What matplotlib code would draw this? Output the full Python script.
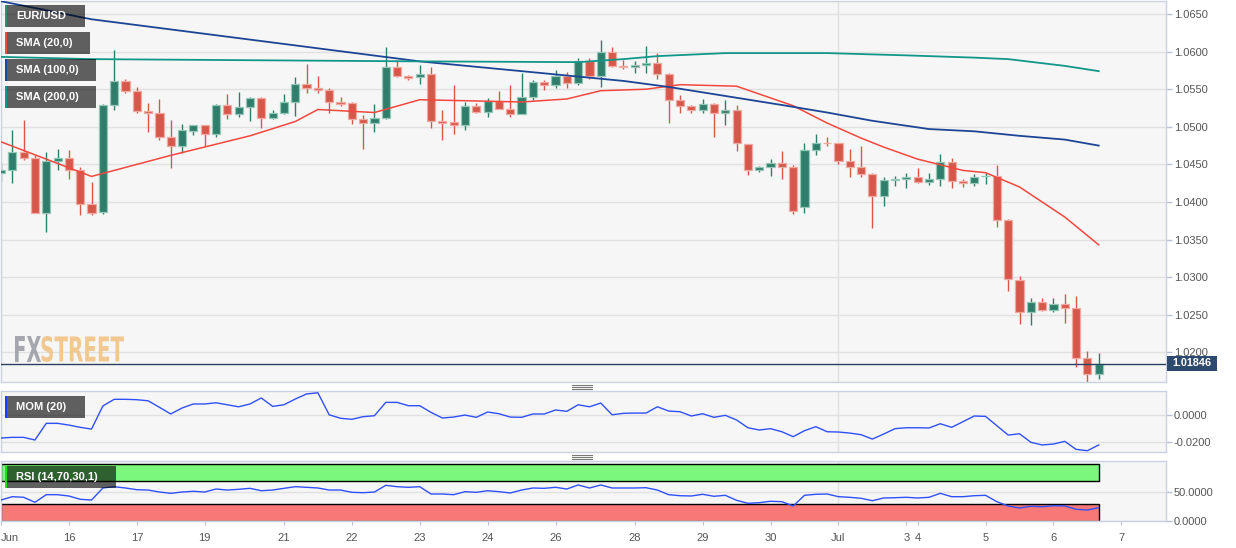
import matplotlib
matplotlib.use("Agg")
import matplotlib.pyplot as plt
import numpy as np
from matplotlib.patches import Rectangle, PathPatch
from matplotlib.textpath import TextPath
from matplotlib.font_manager import FontProperties
from matplotlib.transforms import Affine2D, IdentityTransform
from matplotlib.lines import Line2D

plt.rcParams['font.family'] = ['Liberation Sans', 'DejaVu Sans']

# EUR/USD 4h candles, 15 Jun - 6 Jul
opens = [1.0438, 1.0443, 1.0467, 1.0459, 1.0386, 1.0455, 1.0458, 1.0443, 1.0397, 1.0387,
         1.0529, 1.0561, 1.0547, 1.0521, 1.0518, 1.0486, 1.0474, 1.0494, 1.0502, 1.0490,
         1.0529, 1.0517, 1.0526, 1.0538, 1.0512, 1.0518, 1.0533, 1.0557, 1.0551, 1.0549,
         1.0533, 1.0531, 1.0511, 1.0505, 1.0512, 1.0580, 1.0568, 1.0566, 1.0570, 1.0508,
         1.0506, 1.0503, 1.0528, 1.0520, 1.0534, 1.0524, 1.0517, 1.0539, 1.0559, 1.0555,
         1.0567, 1.0558, 1.0588, 1.0568, 1.0600, 1.0581, 1.0580, 1.0582, 1.0585, 1.0570,
         1.0536, 1.0527, 1.0523, 1.0530, 1.0518, 1.0523, 1.0477, 1.0442, 1.0447, 1.0452,
         1.0447, 1.0394, 1.0469, 1.0479, 1.0479, 1.0455, 1.0447, 1.0437, 1.0408, 1.0429,
         1.0430, 1.0433, 1.0427, 1.0431, 1.0453, 1.0428, 1.0425, 1.0434, 1.0435, 1.0376,
         1.0296, 1.0254, 1.0267, 1.0257, 1.0264, 1.0259, 1.0192, 1.0171]
highs = [1.0452, 1.0496, 1.0509, 1.0462, 1.0466, 1.0470, 1.0469, 1.0446, 1.0427, 1.0530,
         1.0602, 1.0563, 1.0553, 1.0531, 1.0537, 1.0509, 1.0504, 1.0502, 1.0502, 1.0530,
         1.0543, 1.0546, 1.0540, 1.0539, 1.0523, 1.0543, 1.0566, 1.0583, 1.0567, 1.0551,
         1.0539, 1.0533, 1.0516, 1.0530, 1.0606, 1.0587, 1.0569, 1.0582, 1.0580, 1.0522,
         1.0555, 1.0533, 1.0532, 1.0538, 1.0548, 1.0555, 1.0571, 1.0562, 1.0562, 1.0576,
         1.0573, 1.0591, 1.0591, 1.0615, 1.0606, 1.0589, 1.0588, 1.0607, 1.0598, 1.0572,
         1.0542, 1.0529, 1.0537, 1.0532, 1.0536, 1.0529, 1.0477, 1.0448, 1.0457, 1.0468,
         1.0449, 1.0479, 1.0490, 1.0486, 1.0479, 1.0471, 1.0474, 1.0439, 1.0433, 1.0435,
         1.0439, 1.0445, 1.0439, 1.0464, 1.0458, 1.0431, 1.0437, 1.0439, 1.0449, 1.0377,
         1.0301, 1.0272, 1.0272, 1.0272, 1.0278, 1.0275, 1.0202, 1.0199]
lows = [1.0427, 1.0425, 1.0456, 1.0385, 1.0360, 1.0442, 1.0431, 1.0383, 1.0383, 1.0384,
        1.0522, 1.0545, 1.0518, 1.0493, 1.0482, 1.0445, 1.0465, 1.0489, 1.0475, 1.0486,
        1.0511, 1.0513, 1.0508, 1.0499, 1.0510, 1.0517, 1.0514, 1.0545, 1.0545, 1.0519,
        1.0528, 1.0504, 1.0470, 1.0493, 1.0511, 1.0566, 1.0562, 1.0557, 1.0499, 1.0483,
        1.0491, 1.0496, 1.0518, 1.0513, 1.0524, 1.0513, 1.0517, 1.0536, 1.0549, 1.0551,
        1.0551, 1.0556, 1.0564, 1.0553, 1.0580, 1.0577, 1.0571, 1.0571, 1.0564, 1.0505,
        1.0518, 1.0518, 1.0518, 1.0486, 1.0503, 1.0468, 1.0436, 1.0440, 1.0435, 1.0430,
        1.0384, 1.0385, 1.0462, 1.0474, 1.0450, 1.0433, 1.0433, 1.0366, 1.0395, 1.0421,
        1.0418, 1.0425, 1.0423, 1.0421, 1.0418, 1.0420, 1.0421, 1.0424, 1.0367, 1.0281,
        1.0238, 1.0236, 1.0255, 1.0254, 1.0239, 1.0180, 1.0161, 1.0165]
closes = [1.0443, 1.0467, 1.0459, 1.0386, 1.0454, 1.0458, 1.0443, 1.0397, 1.0386, 1.0529,
          1.0561, 1.0547, 1.0521, 1.0518, 1.0486, 1.0474, 1.0496, 1.0502, 1.0490, 1.0529,
          1.0517, 1.0526, 1.0538, 1.0512, 1.0518, 1.0533, 1.0557, 1.0551, 1.0549, 1.0533,
          1.0530, 1.0511, 1.0505, 1.0512, 1.0580, 1.0568, 1.0565, 1.0570, 1.0508, 1.0505,
          1.0503, 1.0528, 1.0520, 1.0534, 1.0524, 1.0517, 1.0539, 1.0559, 1.0555, 1.0567,
          1.0558, 1.0588, 1.0568, 1.0600, 1.0581, 1.0580, 1.0582, 1.0585, 1.0570, 1.0536,
          1.0527, 1.0523, 1.0530, 1.0518, 1.0523, 1.0478, 1.0442, 1.0446, 1.0452, 1.0447,
          1.0388, 1.0469, 1.0479, 1.0478, 1.0455, 1.0447, 1.0437, 1.0408, 1.0429, 1.0430,
          1.0433, 1.0427, 1.0431, 1.0453, 1.0428, 1.0425, 1.0433, 1.0435, 1.0376, 1.0297,
          1.0254, 1.0267, 1.0257, 1.0264, 1.0259, 1.0192, 1.0171, 1.01846]

# moving averages, read at a subset of candles
sma20_idx = [0, 8, 15, 22, 26, 28, 33, 37, 46, 50, 53, 57, 60, 65, 70, 73, 76, 78, 81, 85, 87, 90, 94, 97]
sma20_val = [1.0480, 1.0434, 1.0462, 1.0488, 1.0507, 1.0523, 1.0519, 1.0536, 1.0533, 1.0537, 1.0548,
             1.0550, 1.0556, 1.0554, 1.0528, 1.0505, 1.0485, 1.0473, 1.0457, 1.0442, 1.0439,
             1.0420, 1.0380, 1.0343]
sma100_idx = [0, 8, 37, 55, 59, 69, 73, 77, 82, 86, 90, 94, 97]
sma100_val = [1.0667, 1.0643, 1.0587, 1.0561, 1.0553, 1.0529, 1.0519, 1.0508, 1.0497, 1.0494,
              1.0488, 1.0483, 1.0475]
sma200_idx = [0, 8, 37, 51, 55, 58, 64, 73, 80, 86, 89, 94, 97]
sma200_val = [1.0593, 1.0590, 1.0587, 1.0586, 1.0590, 1.0594, 1.0598, 1.0598, 1.0595, 1.0592,
              1.0590, 1.0581, 1.0574]

mom = [-0.0170, -0.0165, -0.0165, -0.0185, -0.0060, -0.0060, -0.0073, -0.0090, -0.0103, 0.0070,
       0.0120, 0.0120, 0.0117, 0.0109, 0.0060, 0.0010, 0.0055, 0.0085, 0.0085, 0.0094,
       0.0079, 0.0064, 0.0085, 0.0130, 0.0067, 0.0079, 0.0122, 0.0160, 0.0169, 0.0004,
       -0.0022, -0.0030, -0.0010, -0.0003, 0.0097, 0.0097, 0.0072, 0.0072, 0.0022, -0.0020,
       -0.0013, 0.0002, -0.0015, 0.0025, 0.0012, -0.0013, -0.0015, 0.0010, 0.0010, 0.0040,
       0.0030, 0.0079, 0.0064, 0.0092, 0.0004, 0.0015, 0.0017, 0.0017, 0.0064, 0.0032,
       0.0027, -0.0005, 0.0012, -0.0015, 0.0000, -0.0035, -0.0093, -0.0110, -0.0100, -0.0123,
       -0.0160, -0.0115, -0.0085, -0.0123, -0.0125, -0.0133, -0.0145, -0.0178, -0.0140, -0.0100,
       -0.0093, -0.0093, -0.0095, -0.0063, -0.0090, -0.0048, -0.0005, -0.0008, -0.0078, -0.0148,
       -0.0138, -0.0202, -0.0222, -0.0215, -0.0195, -0.0255, -0.0265, -0.0222]
rsi = [36.4, 42.3, 41.2, 32.4, 45.8, 45.8, 43.5, 37.7, 36.4, 57.6,
       59.9, 57.6, 54.6, 54.0, 50.5, 48.2, 50.5, 51.8, 50.5, 55.8,
       54.0, 55.3, 57.0, 52.8, 54.0, 57.0, 59.9, 58.8, 57.6, 54.0,
       54.0, 50.0, 49.3, 50.5, 62.3, 59.9, 58.8, 59.9, 47.0, 47.0,
       45.8, 51.1, 50.0, 52.8, 51.1, 48.8, 54.0, 57.6, 57.0, 58.8,
       55.8, 62.9, 57.6, 62.9, 57.6, 57.6, 57.6, 58.1, 54.0, 45.8,
       44.0, 43.5, 46.5, 43.0, 44.7, 35.9, 30.6, 31.7, 34.2, 33.5,
       25.9, 44.7, 46.5, 47.0, 42.3, 41.2, 39.4, 35.2, 40.0, 40.5,
       41.2, 40.0, 41.2, 48.2, 42.3, 42.3, 44.0, 44.7, 33.5, 25.9,
       22.4, 25.4, 24.6, 26.4, 25.9, 20.1, 18.8, 22.9]

tick_pos = [0, 6, 12, 18, 25, 31, 37, 43, 49, 56, 62, 68, 74, 80, 81, 87, 93, 99]
tick_lab = ['Jun', '16', '17', '19', '21', '22', '23', '24', '26', '28', '29', '30', 'Jul',
            '3', '4', '5', '6', '7']
price_ticks = [1.0200, 1.0250, 1.0300, 1.0350, 1.0400, 1.0450, 1.0500, 1.0550, 1.0600, 1.0650]
last_price = 1.01846

W, H = 1236, 548
BG = '#f6f6f6'
BORDER = '#c9d1e3'
GRID = '#e1e1e1'
TXT = '#555555'


def frac(x0, y0, x1, y1):
    # pixel box (top-left origin) -> figure fraction rect
    return [x0 / W, 1 - y1 / H, (x1 - x0) / W, (y1 - y0) / H]


fig = plt.figure(figsize=(W / 100, H / 100), dpi=100)
fig.patch.set_facecolor('white')

ax = fig.add_axes(frac(1, 1, 1165.5, 382))
ax_m = fig.add_axes(frac(1, 391.3, 1165.5, 452.3), sharex=ax)
ax_r = fig.add_axes(frac(1, 461.3, 1165.5, 520.7), sharex=ax)

idx = np.arange(len(opens))
o = np.array(opens); c = np.array(closes); hi = np.array(highs); lo = np.array(lows)
up = c >= o

for a in (ax, ax_m, ax_r):
    a.set_facecolor(BG)
    for s in a.spines.values():
        s.set_color(BORDER)
        s.set_linewidth(1)
    a.yaxis.tick_right()
    a.tick_params(axis='y', length=4, width=1, color='#b9c1d3', labelcolor=TXT, labelsize=8, pad=2)
    a.axvline(74, color=GRID, lw=1, zorder=0)

# candles
green, green_edge = '#2f7e6b', '#93c8b8'
red, red_edge = '#d5584a', '#f0aaa2'
ax.vlines(idx[up], lo[up], hi[up], color=green, lw=1, zorder=2)
ax.vlines(idx[~up], lo[~up], hi[~up], color=red, lw=1, zorder=2)
body = c - o
body = np.where(np.abs(body) < 0.00008, np.where(up, 0.00008, -0.00008), body)
ax.bar(idx[up], body[up], bottom=o[up], width=0.72, color=green, edgecolor=green_edge, lw=0.9, zorder=3)
ax.bar(idx[~up], body[~up], bottom=o[~up], width=0.72, color=red, edgecolor=red_edge, lw=0.9, zorder=3)

ax.plot(sma20_idx, sma20_val, color='#f2483d', lw=1.1, zorder=4)
ax.plot(sma100_idx, sma100_val, color='#1d4596', lw=1.3, zorder=4)
ax.plot(sma200_idx, sma200_val, color='#11968a', lw=1.3, zorder=4)

ax.axhline(last_price, color='#2b3f63', lw=1, zorder=5)
ax.set_yticks(price_ticks)
ax.set_yticklabels([f'{v:.4f}' for v in price_ticks])
ax.grid(axis='y', color=GRID, lw=1, zorder=0)
ax.set_ylim(1.01606, 1.06673)
ax.set_xlim(0.1, 102.9)
ax.tick_params(axis='x', bottom=False, labelbottom=False)

# momentum panel
ax_m.plot(idx, mom, color='#3050fa', lw=1, zorder=3)
ax_m.set_ylim(-0.0277, 0.0180)
ax_m.set_yticks([-0.02, 0.0])
ax_m.set_yticklabels(['-0.0200', '0.0000'])
ax_m.grid(axis='y', color=GRID, lw=1, zorder=0)
ax_m.tick_params(axis='x', bottom=False, labelbottom=False)

# rsi panel
ax_r.fill_between([idx[0], idx[-1]], 70, 100, facecolor='#7bf87b', edgecolor='black', lw=1, zorder=1)
ax_r.fill_between([idx[0], idx[-1]], 0, 30, facecolor='#f87878', edgecolor='black', lw=1, zorder=1)
ax_r.plot(idx, rsi, color='#3050fa', lw=1, zorder=3)
ax_r.set_ylim(0, 104.6)
ax_r.set_yticks([0, 50])
ax_r.set_yticklabels(['0.0000', '50.0000'])
ax_r.grid(axis='y', color=GRID, lw=1, zorder=0)
ax_r.set_xticks(tick_pos)
ax_r.set_xticklabels(tick_lab)
ax_r.tick_params(axis='x', length=3, color='#b9c1d3', labelcolor=TXT, labelsize=8, pad=6)
ax_r.get_xticklabels()[0].set_ha('left')

# indicator labels
labels = [('EUR/USD', (5, 5, 85, 27), '#3a8a70'),
          ('SMA (20,0)', (5, 32, 90, 54), '#f2483d'),
          ('SMA (100,0)', (5, 59, 96, 81), '#1d45a6'),
          ('SMA (200,0)', (5, 86, 96, 108), '#11968a'),
          ('MOM (20)', (5, 396, 85, 418), '#1f3cff'),
          ('RSI (14,70,30,1)', (5, 466, 116, 488), '#19e619')]
for name, (x0, y0, x1, y1), col in labels:
    fig.add_artist(Rectangle(frac(x0, y0, x1, y1)[:2], (x1 - x0) / W, (y1 - y0) / H,
                             transform=fig.transFigure, facecolor='black', alpha=0.61, lw=0, zorder=10))
    fig.add_artist(Rectangle(frac(x0, y0, x0 + 2.5, y1)[:2], 2.5 / W, (y1 - y0) / H,
                             transform=fig.transFigure, facecolor=col, lw=0, zorder=11))
    fig.text((x0 + 11.5) / W, 1 - (y0 + y1) / 2 / H, name, color='white', fontsize=8,
             fontweight='bold', va='center', ha='left', zorder=12)

# last price tag
fig.add_artist(Rectangle(frac(1167, 356, 1217, 371)[:2], 50 / W, 15 / H,
                         transform=fig.transFigure, facecolor='#2d4a6e', lw=0, zorder=10))
fig.text(1192 / W, 1 - 363.5 / H, f'{last_price:.5f}', color='white', fontsize=7.8,
         fontweight='bold', ha='center', va='center', zorder=11)

# panel handles
for yc in (387, 457):
    for dy in (-1.7, 0, 1.7):
        yy = 1 - (yc + dy) / H
        fig.add_artist(Line2D([572 / W, 592 / W], [yy, yy], color='#777777', lw=0.8,
                              transform=fig.transFigure))

# watermark
fp = FontProperties(family='DejaVu Sans', weight='bold')
for word, (x0, x1), col in (('FX', (15, 41), '#9c9ea6'), ('STREET', (41.5, 124), '#f2c386')):
    tp = TextPath((0, 0), word, size=40, prop=fp)
    ext = tp.get_extents()
    sx = (x1 - x0) / ext.width
    sy = 26 / ext.height
    tr = Affine2D().translate(-ext.x0, -ext.y0).scale(sx, sy).translate(x0, H - 362)
    fig.add_artist(PathPatch(tr.transform_path(tp), facecolor=col, lw=0, alpha=0.9,
                             transform=IdentityTransform(), zorder=1))

fig.savefig('out.png', dpi=100, facecolor='white')
